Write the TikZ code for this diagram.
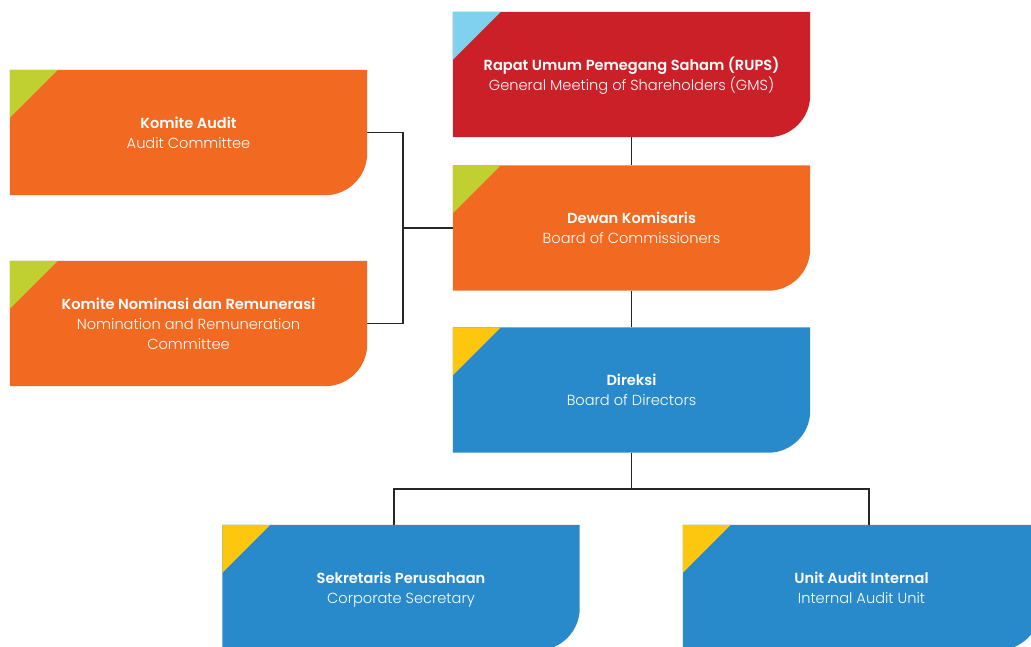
\documentclass[tikz,border=0pt]{standalone}
\usepackage{fontspec}
\setmainfont{Poppins}[UprightFont=* Light, BoldFont=* SemiBold]
\definecolor{cred}{HTML}{CC2029}
\definecolor{corange}{HTML}{F26922}
\definecolor{cblue}{HTML}{2889CB}
\definecolor{clime}{HTML}{C1D031}
\definecolor{csky}{HTML}{7FD1EE}
\definecolor{cyellow}{HTML}{FDC70F}
\tikzset{
  box/.style={rectangle, minimum width=357pt, minimum height=125pt, inner sep=0pt, draw=none},
  lbl/.style={text=white, align=center, inner sep=0pt, font=\fontsize{14.6}{20}\selectfont},
  conn/.style={draw=black!85, line width=1.3pt},
}
\newcommand\orgbox[6]{%
  \node[box] (#1) at (#2) {};
  \fill[#3] (#1.north west) -- (#1.north east) -- ([yshift=42pt]#1.south east)
    arc[start angle=0, end angle=-90, radius=42pt] -- (#1.south west) -- cycle;
  \fill[#4] (#1.north west) -- ([xshift=48pt]#1.north west) -- ([yshift=-48pt]#1.north west) -- cycle;
  \node[lbl] at ([yshift=-1.5pt]#1.center) {\textbf{#5}\strut\\#6\strut};
}
\begin{document}
\begin{tikzpicture}[x=1pt, y=-1pt]
\useasboundingbox (0,0) rectangle (1031,646);
\clip (0,0) rectangle (1031,646);
% connectors
\coordinate (j) at (631.5,489);
\coordinate (b) at (403,228);
\node[box] (rups0) at (631.5,74.5) {};
\node[box] (dew0) at (631.5,228) {};
\node[box] (dir0) at (631.5,390) {};
\node[box] (ka0) at (188.5,132.5) {};
\node[box] (kn0) at (188.5,323.5) {};
\node[box] (sek0) at (401,587.5) {};
\node[box] (uai0) at (861.5,587.5) {};
\draw[conn] (rups0) -- (dew0);
\draw[conn] (dew0) -- (dir0);
\draw[conn] (dir0.south) -- (j);
\draw[conn] ([xshift=-7pt]sek0.north) |- (j) -| ([xshift=7.5pt]uai0.north);
\draw[conn] (ka0.east) -| (b);
\draw[conn] (kn0.east) -| (b);
\draw[conn] (b) -- (dew0.west);
% boxes
\orgbox{rups}{631.5,74.5}{cred}{csky}{Rapat Umum Pemegang Saham (RUPS)}{General Meeting of Shareholders (GMS)}
\orgbox{dew}{631.5,228}{corange}{clime}{Dewan Komisaris}{Board of Commissioners}
\orgbox{dir}{631.5,390}{cblue}{cyellow}{Direksi}{Board of Directors}
\orgbox{ka}{188.5,132.5}{corange}{clime}{Komite Audit}{Audit Committee}
\orgbox{kn}{188.5,323.5}{corange}{clime}{Komite Nominasi dan Remunerasi}{Nomination and Remuneration\strut\\Committee}
\orgbox{sek}{401,587.5}{cblue}{cyellow}{Sekretaris Perusahaan}{Corporate Secretary}
\orgbox{uai}{861.5,587.5}{cblue}{cyellow}{Unit Audit Internal}{Internal Audit Unit}
\end{tikzpicture}
\end{document}
